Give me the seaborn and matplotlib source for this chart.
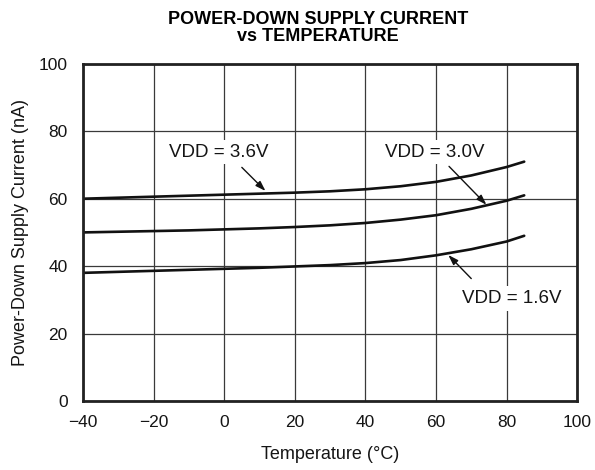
import pandas as pd
import matplotlib
matplotlib.use("Agg")
import matplotlib.pyplot as plt
import seaborn as sns

# Values
temp = [-40, -30, -20, -10, 0, 10, 20, 30, 40, 50, 60, 70, 80, 85]
vdd_36 = [60.0, 60.3, 60.6, 60.9, 61.2, 61.5, 61.8, 62.2, 62.8, 63.7, 65.0, 66.9, 69.4, 71.0]
vdd_30 = [50.0, 50.2, 50.4, 50.6, 50.9, 51.2, 51.6, 52.1, 52.8, 53.8, 55.1, 57.0, 59.4, 61.0]
vdd_16 = [38.0, 38.3, 38.6, 38.9, 39.2, 39.5, 39.9, 40.3, 40.9, 41.8, 43.2, 45.0, 47.3, 49.0]

x_ticks = [-40, -20, 0, 20, 40, 60, 80, 100]
y_ticks = [0, 20, 40, 60, 80, 100]

df = pd.DataFrame({
    "temp": temp * 3,
    "current": vdd_36 + vdd_30 + vdd_16,
    "series": ["3.6V"] * len(temp) + ["3.0V"] * len(temp) + ["1.6V"] * len(temp),
})

sns.set_style("white")
plt.rcParams["font.family"] = ["Liberation Sans", "DejaVu Sans"]
plt.rcParams["text.color"] = "#151515"
plt.rcParams["axes.labelcolor"] = "#151515"

fig = plt.figure(figsize=(5.95, 4.7), dpi=100)
ax = fig.add_axes([0.1395, 0.147, 0.8305, 0.717])

ax.set_xlim(-40, 100)
ax.set_ylim(0, 100)
ax.set_xticks(x_ticks)
ax.set_yticks(y_ticks)
ax.grid(True, color="#3a3a3a", linewidth=0.9)
ax.set_axisbelow(True)

sns.lineplot(data=df, x="temp", y="current", units="series", estimator=None,
             color="#111111", linewidth=1.9, ax=ax, legend=False)

for s in ax.spines.values():
    s.set_visible(True)
    s.set_color("#222222")
    s.set_linewidth(2.0)

ax.tick_params(axis="both", length=0, labelsize=12.5, colors="#151515")
ax.tick_params(axis="y", pad=11)
ax.tick_params(axis="x", pad=10)
ax.set_xlabel("Temperature (°C)", fontsize=13, labelpad=12)
ax.set_ylabel("Power-Down Supply Current (nA)", fontsize=13, labelpad=7)

fig.text(0.534, 0.94, "POWER-DOWN SUPPLY CURRENT\nvs TEMPERATURE",
         ha="center", va="center", fontsize=13, fontweight="bold", linespacing=1.0,
         color="black")

box = dict(boxstyle="square,pad=0.2", fc="white", ec="none")
arrow = dict(arrowstyle="-|>,head_length=0.6,head_width=0.2", color="#111111",
             lw=1.0, shrinkA=0, shrinkB=0)

ax.text(-1.5, 73.8, "VDD = 3.6V", ha="center", va="center", fontsize=13.5, bbox=box)
ax.annotate("", xy=(11.7, 62.3), xytext=(5, 69.3), arrowprops=arrow)

ax.text(59.7, 73.8, "VDD = 3.0V", ha="center", va="center", fontsize=13.5, bbox=box)
ax.annotate("", xy=(74.3, 58.2), xytext=(63.7, 69.6), arrowprops=arrow)

ax.text(81.5, 30.4, "VDD = 1.6V", ha="center", va="center", fontsize=13.5, bbox=box)
ax.annotate("", xy=(63.5, 43.3), xytext=(70, 36.3), arrowprops=arrow)

fig.savefig("out.png", dpi=100)
